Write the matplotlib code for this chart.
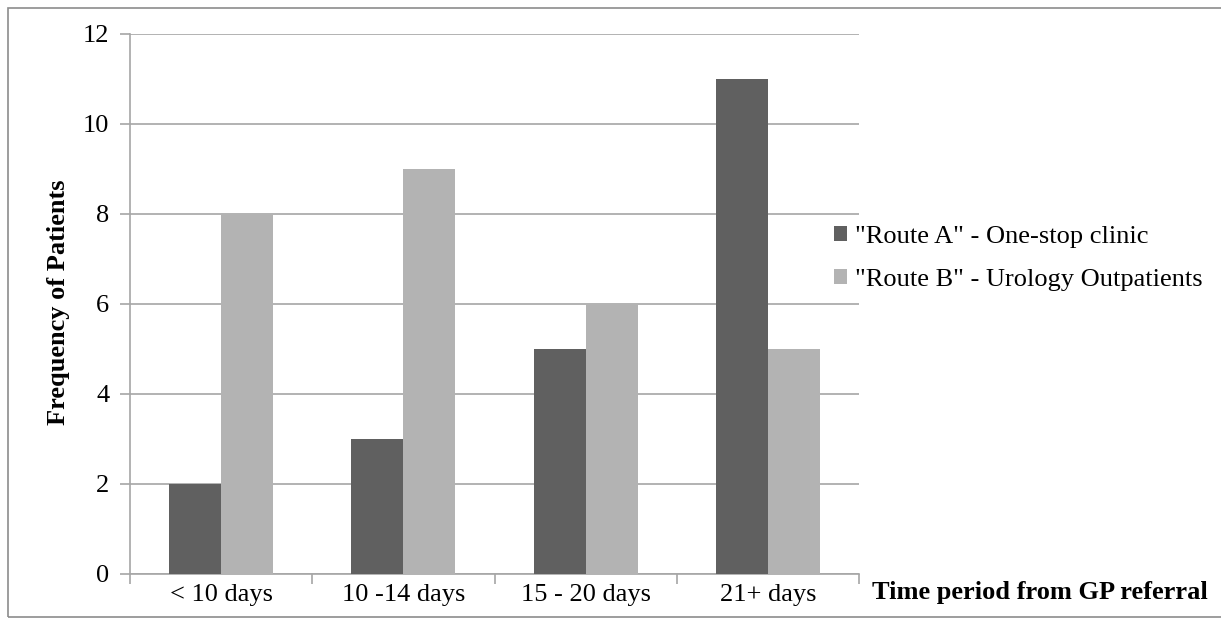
import numpy as np
import matplotlib.pyplot as plt
from matplotlib.patches import Rectangle

# dados do grafico
categorias = ['< 10 days', '10 -14 days', '15 - 20 days', '21+ days']
rota_a = [2, 3, 5, 11]
rota_b = [8, 9, 6, 5]
legenda = ['"Route A" - One-stop clinic', '"Route B" - Urology Outpatients']
yticks = [0, 2, 4, 6, 8, 10, 12]

plt.rcParams['font.family'] = ['Liberation Serif', 'DejaVu Serif']
FS = 19
W, H = 1221, 619

fig = plt.figure(figsize=(W/100, H/100), dpi=100)
ax = fig.add_axes([130/W, 1-574/H, 729/W, 540/H])

# moldura externa (sem lado direito, como no original)
fig.patches.append(Rectangle((8/W, 2/H), 1300/W, 609/H,
                             transform=fig.transFigure, fill=False,
                             edgecolor='#8c8c8c', lw=1.2))

x = np.arange(len(categorias))
w = 1 / 3.5
ax.bar(x - w/2, rota_a, w, color='#606060', label=legenda[0], zorder=3)
ax.bar(x + w/2, rota_b, w, color='#b3b3b3', label=legenda[1], zorder=3)

ax.set_xlim(-0.5, len(categorias) - 0.5)
ax.set_ylim(0, 12)
ax.set_yticks(yticks)
ax.yaxis.grid(True, color='#a6a6a6', lw=1.2, zorder=0)
ax.set_axisbelow(True)

ax.set_xticks(x)
ax.set_xticklabels(categorias, fontsize=FS)
ax.set_xticks(np.arange(-0.5, len(categorias)), minor=True)
ax.tick_params(axis='x', which='major', length=0, pad=7)
ax.tick_params(axis='x', which='minor', length=7, color='#a6a6a6', width=1.2)
ax.tick_params(axis='y', length=7, color='#a6a6a6', width=1.2, labelsize=FS, pad=8)

for s in ['top', 'right']:
    ax.spines[s].set_visible(False)
for s in ['left', 'bottom']:
    ax.spines[s].set_color('#a6a6a6')
    ax.spines[s].set_linewidth(1.2)

fig.text(58/W, 1-302/H, 'Frequency of Patients', fontsize=FS, fontweight='bold',
         rotation=90, ha='center', va='center')
fig.text(872/W, 1-593/H, 'Time period from GP referral', fontsize=FS,
         fontweight='bold', va='center', ha='left')

fig.legend(*ax.get_legend_handles_labels(), loc='center left',
           bbox_to_anchor=(834/W, 1-258.5/H), bbox_transform=fig.transFigure,
           frameon=False, fontsize=FS, handlelength=0.5, handleheight=0.5,
           handletextpad=0.3, labelspacing=0.78, borderpad=0, borderaxespad=0)

fig.savefig('out.png', dpi=100)
